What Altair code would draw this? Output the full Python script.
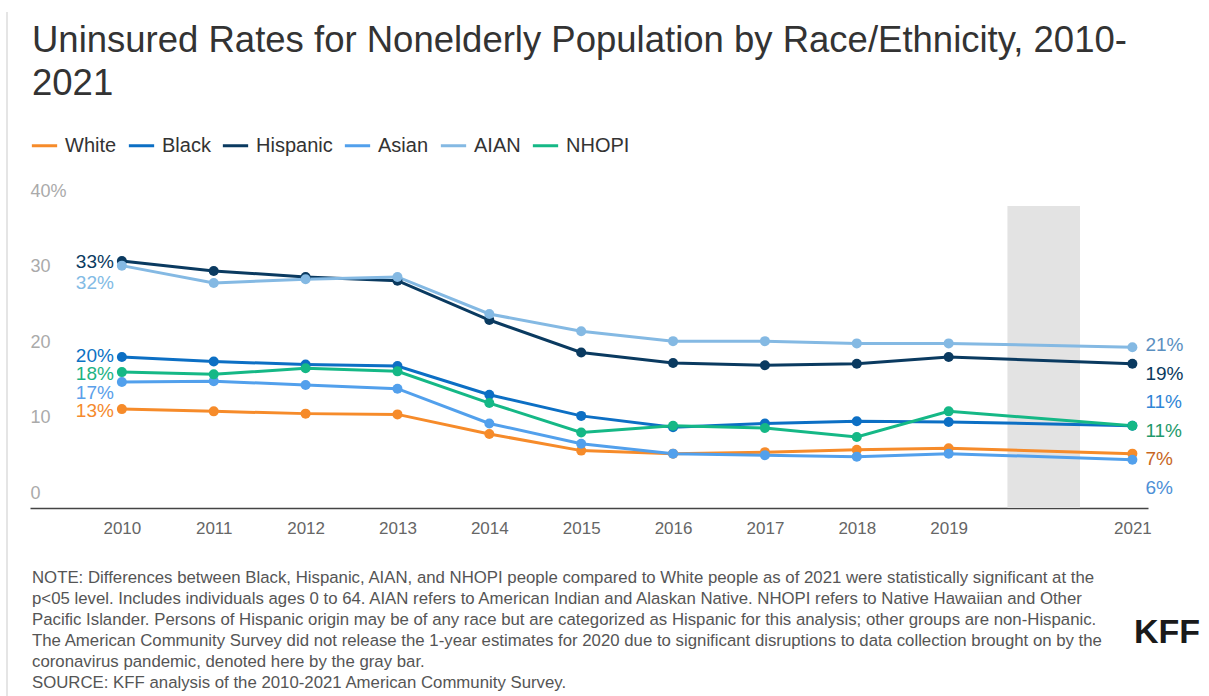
import altair as alt
import pandas as pd

years = [2010, 2011, 2012, 2013, 2014, 2015, 2016, 2017, 2018, 2019, 2021]
series = ["White", "Black", "Hispanic", "Asian", "AIAN", "NHOPI"]
white = [13.1, 12.8, 12.5, 12.4, 9.8, 7.6, 7.2, 7.4, 7.7, 7.9, 7.2]
black = [20.0, 19.4, 19.0, 18.8, 15.0, 12.2, 10.7, 11.2, 11.5, 11.4, 10.9]
hispanic = [32.7, 31.4, 30.6, 30.1, 24.9, 20.6, 19.2, 18.9, 19.1, 20.0, 19.1]
asian = [16.7, 16.8, 16.3, 15.8, 11.2, 8.5, 7.2, 7.0, 6.8, 7.2, 6.4]
aian = [32.1, 29.8, 30.3, 30.6, 25.7, 23.4, 22.1, 22.1, 21.8, 21.8, 21.3]
nhopi = [18.0, 17.7, 18.5, 18.1, 13.9, 10.0, 10.9, 10.6, 9.4, 12.8, 10.9]
line_colors = ["#f68b2a", "#0c6fc4", "#0a3a60", "#52a0ec", "#84b9e3", "#15b886"]

# end labels (text, anchor value on y scale)
left_text = ["13%", "20%", "33%", "17%", "32%", "18%"]
left_pos = [12.9, 20.1, 32.6, 15.2, 29.8, 17.7]
right_text = ["7%", "11%", "19%", "6%", "21%", "11%"]
right_pos = [6.5, 14.1, 17.8, 2.7, 21.6, 10.2]
left_label_colors = ["#f58a2d", "#0b72c4", "#0a3a60", "#5aa0ea", "#82bbe5", "#1db383"]
right_label_colors = ["#c8661e", "#2f86d6", "#0a3a60", "#4d8fd6", "#5b8fbf", "#1f9a6c"]

gap_year = [2019.64]
gap_year2 = [2020.43]

title_lines = ["Uninsured Rates for Nonelderly Population by Race/Ethnicity, 2010-", "2021"]
note_lines = [
    "NOTE: Differences between Black, Hispanic, AIAN, and NHOPI people compared to White people as of 2021 were statistically significant at the",
    "p<05 level. Includes individuals ages 0 to 64. AIAN refers to American Indian and Alaskan Native. NHOPI refers to Native Hawaiian and Other",
    "Pacific Islander. Persons of Hispanic origin may be of any race but are categorized as Hispanic for this analysis; other groups are non-Hispanic.",
    "The American Community Survey did not release the 1-year estimates for 2020 due to significant disruptions to data collection brought on by the",
    "coronavirus pandemic, denoted here by the gray bar.",
    "SOURCE: KFF analysis of the 2010-2021 American Community Survey.",
]

FONT = "Liberation Sans"

vals = {"White": white, "Black": black, "Hispanic": hispanic, "Asian": asian, "AIAN": aian, "NHOPI": nhopi}
rows = []
for s in series:
    for y, v in zip(years, vals[s]):
        rows.append({"Year": y, "Group": s, "Rate": v})
df = pd.DataFrame(rows)

lab_rows = []
for i, s in enumerate(series):
    lab_rows.append({"Year": years[0], "Group": s, "pos": left_pos[i], "text": left_text[i], "side": "L", "col": left_label_colors[i]})
    lab_rows.append({"Year": years[-1], "Group": s, "pos": right_pos[i], "text": right_text[i], "side": "R", "col": right_label_colors[i]})
labs = pd.DataFrame(lab_rows)

xscale = alt.Scale(domain=[2009.0, 2021.17], nice=False, zero=False)
yscale = alt.Scale(domain=[0, 40], nice=False)
color = alt.Color("Group:N", scale=alt.Scale(domain=series, range=line_colors),
                  legend=alt.Legend(title=None, orient="none", legendX=0, legendY=-75,
                                    direction="horizontal", columns=6,
                                    symbolType="stroke", symbolStrokeWidth=3, symbolSize=640,
                                    labelFont=FONT, labelFontSize=20, labelColor="#333333",
                                    labelOffset=6, columnPadding=5, symbolOpacity=1))

xaxis = alt.Axis(values=[2010, 2011, 2012, 2013, 2014, 2015, 2016, 2017, 2018, 2019, 2021],
                 format="d", title=None, grid=False, ticks=False, domain=True,
                 domainColor="#444444", domainWidth=1.5, labelFont=FONT, labelFontSize=17,
                 labelColor="#666666", labelPadding=12)
yaxis = alt.Axis(values=[0, 10, 20, 30, 40], title=None, grid=False, ticks=False, domain=False,
                 labelAlign="left", labelPadding=0, labelOffset=-15, labelFont=FONT,
                 labelFontSize=18, labelColor="#aaaaaa",
                 labelExpr="datum.value == 40 ? '40%' : datum.label")

bar = alt.Chart(pd.DataFrame({"x": gap_year, "x2": gap_year2, "y": [0], "y2": [40]})).mark_rect(
    color="#e3e3e3").encode(
    x=alt.X("x:Q", scale=xscale, axis=xaxis), x2="x2:Q",
    y=alt.Y("y:Q", scale=yscale, axis=yaxis), y2="y2:Q")

lines = alt.Chart(df).mark_line(strokeWidth=3).encode(
    x=alt.X("Year:Q", scale=xscale), y=alt.Y("Rate:Q", scale=yscale), color=color)
points = alt.Chart(df).mark_circle(size=100, opacity=1).encode(
    x=alt.X("Year:Q", scale=xscale), y=alt.Y("Rate:Q", scale=yscale), color=color)

left_labels = alt.Chart(labs[labs.side == "L"]).mark_text(
    align="right", baseline="middle", dx=-8, font=FONT, fontSize=19).encode(
    x=alt.X("Year:Q", scale=xscale), y=alt.Y("pos:Q", scale=yscale),
    text="text:N", color=alt.Color("col:N", scale=None, legend=None))
right_labels = alt.Chart(labs[labs.side == "R"]).mark_text(
    align="left", baseline="middle", dx=13, font=FONT, fontSize=19).encode(
    x=alt.X("Year:Q", scale=xscale), y=alt.Y("pos:Q", scale=yscale),
    text="text:N", color=alt.Color("col:N", scale=None, legend=None))

title = alt.Chart(pd.DataFrame({"a": [0]})).mark_text(
    text=title_lines, align="left", baseline="top", font=FONT, fontSize=36.5,
    lineHeight=43, color="#333333").encode(x=alt.value(2), y=alt.value(-183))

note = alt.Chart(pd.DataFrame({"a": [0]})).mark_text(
    text=note_lines, align="left", baseline="top", font=FONT, fontSize=16.8,
    lineHeight=21, color="#555555").encode(x=alt.value(2), y=alt.value(364))

logo = alt.Chart(pd.DataFrame({"a": [0]})).mark_text(
    text="KFF", align="right", baseline="middle", font=FONT, fontSize=34,
    fontWeight="bold", color="#1a1a1a").encode(x=alt.value(1170), y=alt.value(427))

border = alt.Chart(pd.DataFrame({"a": [0]})).mark_rule(color="#dddddd", strokeWidth=1.5).encode(
    x=alt.value(-23), y=alt.value(-194), y2=alt.value(490))

chart = alt.layer(bar, border, lines, points, left_labels, right_labels, title, note, logo).properties(
    width=1118, height=302,
    autosize=alt.AutoSizeParams(type="none"),
    padding={"left": 30, "top": 206, "right": 61, "bottom": 188},
).configure(background="white", view=alt.ViewConfig(stroke=None, strokeWidth=0))

chart.save("out.html", embed_options={"renderer": "svg", "actions": False})
